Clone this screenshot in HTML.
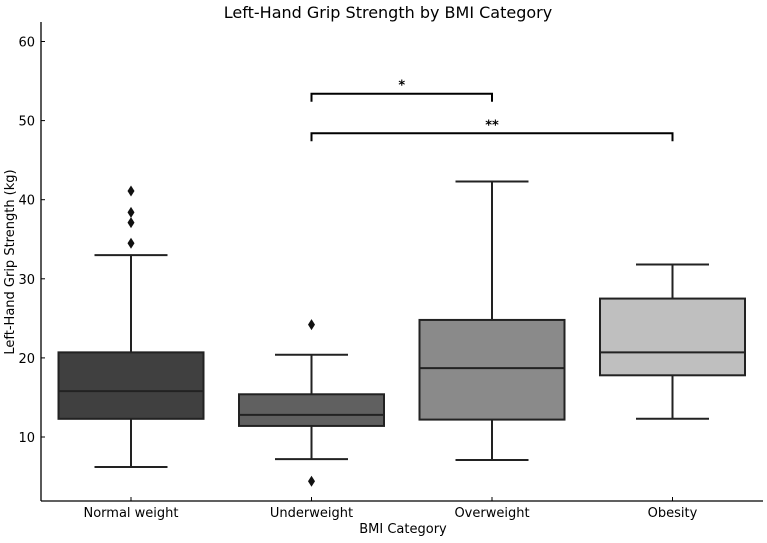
<!DOCTYPE html>
<html><head><meta charset="utf-8"><style>
body{margin:0;background:#fff}
text{font-family:"DejaVu Sans","Liberation Sans",sans-serif;fill:#000}
</style></head><body>
<svg id="chart" width="767" height="538" xmlns="http://www.w3.org/2000/svg">
<text x="388" y="18" font-size="16" text-anchor="middle">Left-Hand Grip Strength by BMI Category</text>
<text x="403" y="533" font-size="13" text-anchor="middle">BMI Category</text>
<text transform="translate(14,262) rotate(-90)" font-size="13" text-anchor="middle">Left-Hand Grip Strength (kg)</text>
<g id="plot"></g>
</svg>
<script>
const categories=["Normal weight","Underweight","Overweight","Obesity"];
const whiskLow=[6.2,7.2,7.1,12.3];
const q1=[12.3,11.4,12.2,17.8];
const median=[15.8,12.8,18.7,20.7];
const q3=[20.7,15.4,24.8,27.5];
const whiskHigh=[33,20.4,42.3,31.8];
const outliers=[[34.5,37.1,38.4,41.1],[24.2,4.4],[],[]];
const colors=["#404040","#606060","#8a8a8a","#bfbfbf"];
const yTicks=[10,20,30,40,50,60];
const sigPairs=[[1,2,53.4,"*"],[1,3,48.4,"**"]];
const NS="http://www.w3.org/2000/svg";
const g=document.getElementById('plot');
const L=41,R=763,T=22,B=501;
const y=v=>437-(v-10)*7.91;
const x=i=>131+i*180.5;
function el(t,a,p){const e=document.createElementNS(NS,t);for(const k in a)e.setAttribute(k,a[k]);(p||g).appendChild(e);return e;}
let ax=el('line',{x1:L,y1:T,x2:L,y2:B,stroke:'#000','stroke-width':1.3});

ax=el('line',{x1:L,y1:B,x2:R,y2:B,stroke:'#000','stroke-width':1.3});

yTicks.forEach(v=>{
 const t=el('line',{x1:L,x2:L+4,y1:y(v),y2:y(v),stroke:'#000'});
 
 const tx=el('text',{x:L-6,y:y(v)+5,'font-size':13,'text-anchor':'end'});tx.textContent=v;
 
});
categories.forEach((c,i)=>{
 const cx=x(i),hw=72.5,cw=36.5;
 const t=el('line',{x1:cx,x2:cx,y1:B,y2:B-4,stroke:'#000'});
 
 const tx=el('text',{x:cx,y:517,'font-size':13,'text-anchor':'middle'});tx.textContent=c;
 
 const gg=el('g',{});
 
 
 const s={stroke:'#222','stroke-width':2};
 el('line',Object.assign({x1:cx,x2:cx,y1:y(whiskLow[i]),y2:y(q1[i])},s),gg);
 el('line',Object.assign({x1:cx,x2:cx,y1:y(q3[i]),y2:y(whiskHigh[i])},s),gg);
 el('line',Object.assign({x1:cx-cw,x2:cx+cw,y1:y(whiskLow[i]),y2:y(whiskLow[i])},s),gg);
 el('line',Object.assign({x1:cx-cw,x2:cx+cw,y1:y(whiskHigh[i]),y2:y(whiskHigh[i])},s),gg);
 el('rect',{x:cx-hw,y:y(q3[i]),width:2*hw,height:y(q1[i])-y(q3[i]),fill:colors[i],stroke:'#222','stroke-width':2},gg);
 el('line',Object.assign({x1:cx-hw,x2:cx+hw,y1:y(median[i]),y2:y(median[i])},s),gg);
 outliers[i].forEach(o=>{
  const d=el('path',{d:`M${cx},${y(o)-5.5}L${cx+3.5},${y(o)}L${cx},${y(o)+5.5}L${cx-3.5},${y(o)}Z`,fill:'#111'});
  
 });
});
sigPairs.forEach(p=>{
 const a=x(p[0]),b=x(p[1]),yy=y(p[2]);
 const br=el('path',{d:`M${a},${yy+8}V${yy}H${b}V${yy+8}`,fill:'none',stroke:'#000','stroke-width':2});
 
 const t=el('text',{x:(a+b)/2,y:yy-4,'font-size':13,'font-weight':'bold','text-anchor':'middle'});t.textContent=p[3];
 
});
</script>
</body></html>
